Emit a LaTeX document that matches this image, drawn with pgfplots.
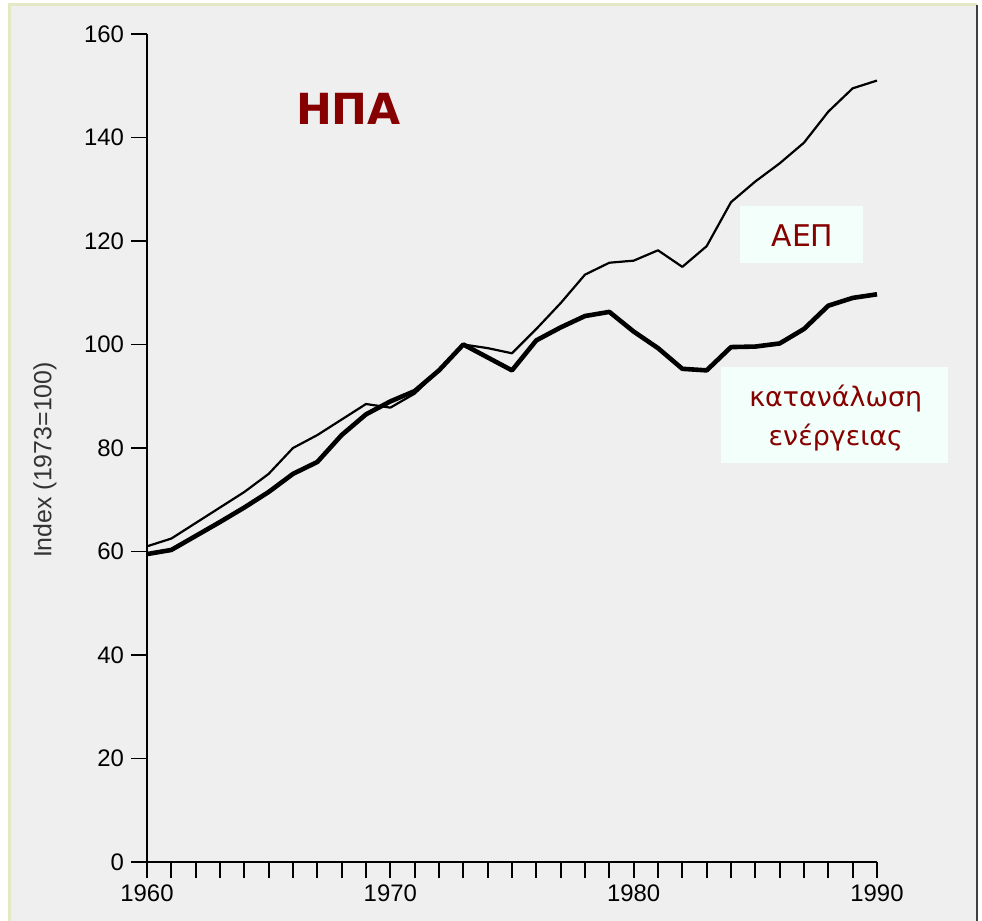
\documentclass[border=0pt]{standalone}
\usepackage{fontspec}
\setmainfont{Liberation Sans}
\newfontfamily\greekfont{DejaVu Sans}
\usepackage{pgfplots}
\pgfplotsset{compat=1.18}
\usepackage{pgfplotstable}

\definecolor{bgpanel}{RGB}{239,239,239}
\definecolor{frameline}{RGB}{228,232,196}
\definecolor{labelred}{RGB}{135,0,0}
\definecolor{boxfill}{RGB}{242,255,250}

% year, GDP index, energy consumption index (1973 = 100)
\pgfplotstableread{
year gdp energy
1960 61.0 59.5
1961 62.5 60.3
1962 65.5 63.0
1963 68.5 65.7
1964 71.5 68.5
1965 75.0 71.5
1966 80.0 75.0
1967 82.5 77.3
1968 85.5 82.5
1969 88.5 86.5
1970 87.8 89.0
1971 90.5 91.0
1972 95.0 95.0
1973 100.0 100.0
1974 99.3 97.5
1975 98.3 95.0
1976 103.0 100.8
1977 108.0 103.3
1978 113.5 105.5
1979 115.8 106.3
1980 116.2 102.5
1981 118.2 99.3
1982 115.0 95.3
1983 119.0 95.0
1984 127.5 99.5
1985 131.5 99.6
1986 135.0 100.2
1987 139.0 103.0
1988 145.0 107.5
1989 149.5 109.0
1990 151.0 109.7
}\usdata

\begin{document}
\begin{tikzpicture}
% page and panel
\useasboundingbox (-73.5bp,-29.5bp) rectangle (417.5bp,431bp);
\fill[white] (-73.5bp,-29.5bp) rectangle (417.5bp,431bp);
\fill[bgpanel] (-68.5bp,-29.5bp) rectangle (415bp,428.5bp);
\draw[frameline, line width=1.5bp] (-68.5bp,-29.5bp) -- (-68.5bp,428.5bp) -- (415bp,428.5bp);
\draw[black!75, line width=1.2bp] (415bp,428.5bp) -- (415bp,-29.5bp);

\begin{axis}[
  at={(0,0)}, anchor=south west,
  scale only axis,
  width=365bp, height=414bp,
  xmin=1960, xmax=1990, ymin=0, ymax=160,
  axis x line=bottom, axis y line=left,
  axis line style={-, line width=1.1bp, black},
  xtick={1960,1970,1980,1990},
  minor x tick num=9,
  ytick={0,20,...,160},
  tick align=outside,
  major tick length=8bp, minor tick length=8bp,
  every tick/.style={black, line width=0.9bp},
  /pgf/number format/1000 sep={},
  /pgf/number format/assume math mode=true,
  ticklabel style={font=\fontsize{12}{14}\selectfont, text=black},
  clip=false,
]
\addplot[black, line width=1.1bp, line join=round] table[x=year, y=gdp] {\usdata};
\addplot[black, line width=2.3bp, line join=round] table[x=year, y=energy] {\usdata};
\end{axis}

% y axis title
\node[rotate=90, font=\fontsize{12.5}{14}\selectfont, text=black!80] at (-51bp,201bp) {Index (1973=100)};

% title
\node[anchor=base, font=\greekfont\bfseries\fontsize{21.5}{24}\selectfont, text=labelred] at (100.75bp,368.5bp) {ΗΠΑ};

% series labels
\fill[boxfill] (296.5bp,299.5bp) rectangle (358bp,328bp);
\node[anchor=base, font=\greekfont\fontsize{15}{17}\selectfont, text=labelred] at (327.75bp,307.7bp) {ΑΕΠ};

\fill[boxfill] (287bp,199.5bp) rectangle (400.5bp,247.5bp);
\node[anchor=base, font=\greekfont\fontsize{13.5}{16}\selectfont, text=labelred] at (344.4bp,227.5bp) {κατανάλωση};
\node[anchor=base, font=\greekfont\fontsize{13.5}{16}\selectfont, text=labelred] at (344.4bp,208bp) {ενέργειας};
\end{tikzpicture}
\end{document}
